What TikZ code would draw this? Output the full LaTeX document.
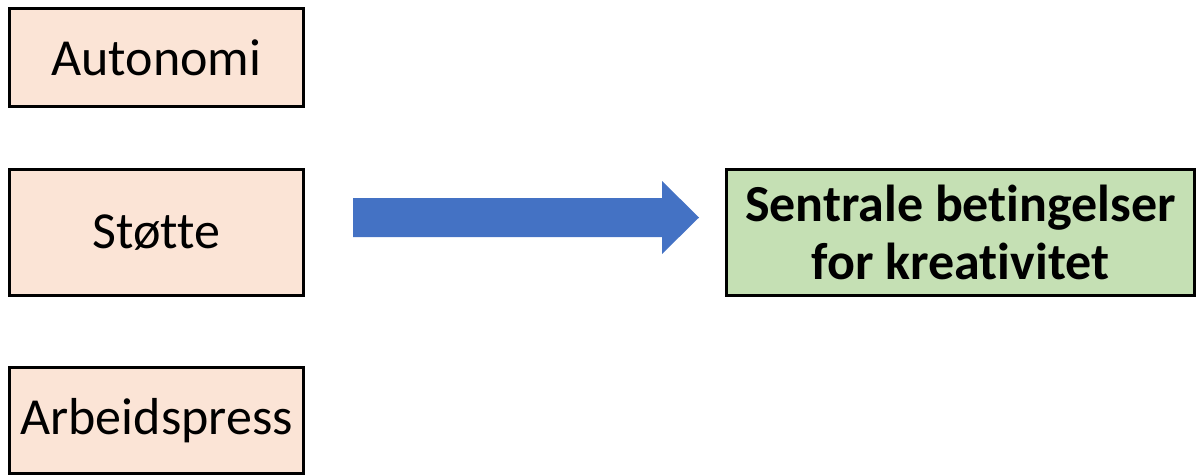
\documentclass[tikz,border=0pt]{standalone}
\usepackage{fontspec}
\setmainfont{Carlito}[RawFeature=-liga]
\usetikzlibrary{calc}
\definecolor{peach}{HTML}{FBE4D6}
\definecolor{lgreen}{HTML}{C5E0B4}
\definecolor{arrowblue}{HTML}{4472C4}
\begin{document}
\begin{tikzpicture}[x=1pt,y=-1pt,
  factor/.style={draw=black,line width=3pt,fill=peach,minimum width=294pt,inner sep=0pt,font=\fontsize{52}{58}\selectfont},
  result/.style={draw=black,line width=3pt,fill=lgreen,minimum width=468pt,minimum height=126pt,inner sep=0pt,align=center,font=\fontsize{52}{58}\selectfont\bfseries}]
\useasboundingbox (0,0) rectangle (1196,474);
\node[factor,minimum height=98pt] (aut) at (156.5,57.5) {Autonomi};
\node[factor,minimum height=126pt] (sto) at (156.5,232.5) {Støtte};
\node[factor,minimum height=106pt] (arb) at (156.5,420.5) {Arbeidspress};
\node[result] (sen) at (960.5,232.5) {Sentrale betingelser\\for kreativitet};
\coordinate (as) at (353,217.5);
\coordinate (ae) at (699,217.5);
\fill[arrowblue] ($(as)+(0,-19.5)$) -- (662,198) -- (662,181) -- (ae) -- (662,254) -- (662,237) -- ($(as)+(0,19.5)$) -- cycle;
\end{tikzpicture}
\end{document}
